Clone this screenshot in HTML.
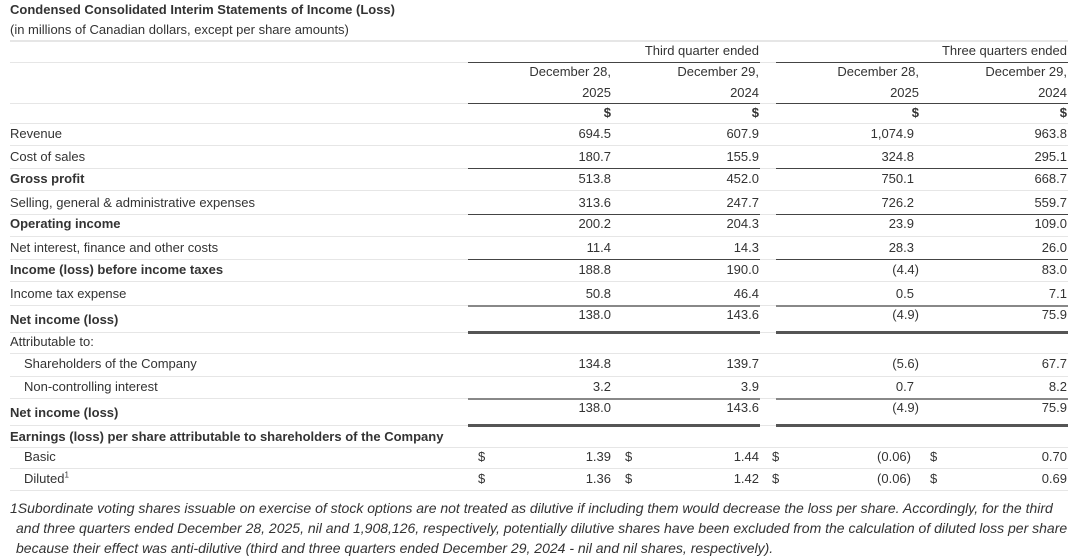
<!DOCTYPE html>
<html><head><meta charset="utf-8"><style>
body{margin:0;width:1080px;height:555px;background:#fff;font-family:"Liberation Sans",Arial,sans-serif;font-size:13px;color:#333;position:relative;overflow:hidden}
.t{position:absolute;white-space:nowrap;line-height:16px}
.r{position:absolute;white-space:nowrap;line-height:16px;text-align:right}
.b{font-weight:bold}
.g{position:absolute;left:10px;width:1058px;height:1px;background:#e6e6e6}
.d{position:absolute;height:1px;background:#444}
.h{position:absolute;height:2px;background:#888}
.fn{position:absolute;left:10px;font-style:italic;white-space:nowrap;line-height:16px;font-size:14px}
</style></head><body>
<div class="t b" style="left:10px;top:2px">Condensed Consolidated Interim Statements of Income (Loss)</div>
<div class="t" style="left:10px;top:22px">(in millions of Canadian dollars, except per share amounts)</div>
<div class="g" style="top:40px;height:2px"></div>
<div class="g" style="top:62px"></div>
<div class="r" style="right:321px;top:43px">Third quarter ended</div>
<div class="r" style="right:13px;top:43px">Three quarters ended</div>
<div class="d" style="left:468px;width:292px;top:62px"></div>
<div class="d" style="left:776px;width:292px;top:62px"></div>
<div class="r" style="right:469px;top:64px">December 28,</div>
<div class="r" style="right:321px;top:64px">December 29,</div>
<div class="r" style="right:161px;top:64px">December 28,</div>
<div class="r" style="right:13px;top:64px">December 29,</div>
<div class="r" style="right:469px;top:85px">2025</div>
<div class="r" style="right:321px;top:85px">2024</div>
<div class="r" style="right:161px;top:85px">2025</div>
<div class="r" style="right:13px;top:85px">2024</div>
<div class="g" style="top:103px"></div>
<div class="d" style="left:468px;width:292px;top:103px"></div>
<div class="d" style="left:776px;width:292px;top:103px"></div>
<div class="r b" style="right:469px;top:105px">$</div>
<div class="r b" style="right:321px;top:105px">$</div>
<div class="r b" style="right:161px;top:105px">$</div>
<div class="r b" style="right:13px;top:105px">$</div>
<div class="g" style="top:123px"></div>

<div class="t" style="left:10px;top:126px">Revenue</div>
<div class="r" style="right:469px;top:126px">694.5</div><div class="r" style="right:321px;top:126px">607.9</div><div class="r" style="right:166px;top:126px">1,074.9</div><div class="r" style="right:13px;top:126px">963.8</div>
<div class="g" style="top:145px"></div>
<div class="t" style="left:10px;top:149px">Cost of sales</div>
<div class="r" style="right:469px;top:149px">180.7</div><div class="r" style="right:321px;top:149px">155.9</div><div class="r" style="right:166px;top:149px">324.8</div><div class="r" style="right:13px;top:149px">295.1</div>
<div class="g" style="top:168px"></div>
<div class="d" style="left:468px;width:292px;top:168px"></div><div class="d" style="left:776px;width:292px;top:168px"></div>
<div class="t b" style="left:10px;top:171px">Gross profit</div>
<div class="r" style="right:469px;top:171px">513.8</div><div class="r" style="right:321px;top:171px">452.0</div><div class="r" style="right:166px;top:171px">750.1</div><div class="r" style="right:13px;top:171px">668.7</div>
<div class="g" style="top:190px"></div>
<div class="t" style="left:10px;top:195px">Selling, general &amp; administrative expenses</div>
<div class="r" style="right:469px;top:195px">313.6</div><div class="r" style="right:321px;top:195px">247.7</div><div class="r" style="right:166px;top:195px">726.2</div><div class="r" style="right:13px;top:195px">559.7</div>
<div class="g" style="top:214px"></div>
<div class="d" style="left:468px;width:292px;top:214px"></div><div class="d" style="left:776px;width:292px;top:214px"></div>
<div class="t b" style="left:10px;top:216px">Operating income</div>
<div class="r" style="right:469px;top:216px">200.2</div><div class="r" style="right:321px;top:216px">204.3</div><div class="r" style="right:166px;top:216px">23.9</div><div class="r" style="right:13px;top:216px">109.0</div>
<div class="g" style="top:236px"></div>
<div class="t" style="left:10px;top:240px">Net interest, finance and other costs</div>
<div class="r" style="right:469px;top:240px">11.4</div><div class="r" style="right:321px;top:240px">14.3</div><div class="r" style="right:166px;top:240px">28.3</div><div class="r" style="right:13px;top:240px">26.0</div>
<div class="g" style="top:259px"></div>
<div class="d" style="left:468px;width:292px;top:259px"></div><div class="d" style="left:776px;width:292px;top:259px"></div>
<div class="t b" style="left:10px;top:262px">Income (loss) before income taxes</div>
<div class="r" style="right:469px;top:262px">188.8</div><div class="r" style="right:321px;top:262px">190.0</div><div class="r" style="right:161px;top:262px">(4.4)</div><div class="r" style="right:13px;top:262px">83.0</div>
<div class="g" style="top:281px"></div>
<div class="t" style="left:10px;top:286px">Income tax expense</div>
<div class="r" style="right:469px;top:286px">50.8</div><div class="r" style="right:321px;top:286px">46.4</div><div class="r" style="right:166px;top:286px">0.5</div><div class="r" style="right:13px;top:286px">7.1</div>
<div class="g" style="top:305px"></div>
<div class="h" style="left:468px;width:292px;top:305px"></div><div class="h" style="left:776px;width:292px;top:305px"></div>
<div class="t b" style="left:10px;top:312px">Net income (loss)</div>
<div class="r" style="right:469px;top:307px">138.0</div><div class="r" style="right:321px;top:307px">143.6</div><div class="r" style="right:161px;top:307px">(4.9)</div><div class="r" style="right:13px;top:307px">75.9</div>
<div class="g" style="top:332px"></div>
<div class="h" style="left:468px;width:292px;top:331px;height:3px;background:#555"></div><div class="h" style="left:776px;width:292px;top:331px;height:3px;background:#555"></div>
<div class="t" style="left:10px;top:334px">Attributable to:</div>
<div class="g" style="top:353px"></div>
<div class="t" style="left:24px;top:356px">Shareholders of the Company</div>
<div class="r" style="right:469px;top:356px">134.8</div><div class="r" style="right:321px;top:356px">139.7</div><div class="r" style="right:161px;top:356px">(5.6)</div><div class="r" style="right:13px;top:356px">67.7</div>
<div class="g" style="top:376px"></div>
<div class="t" style="left:24px;top:379px">Non-controlling interest</div>
<div class="r" style="right:469px;top:379px">3.2</div><div class="r" style="right:321px;top:379px">3.9</div><div class="r" style="right:166px;top:379px">0.7</div><div class="r" style="right:13px;top:379px">8.2</div>
<div class="g" style="top:398px"></div>
<div class="h" style="left:468px;width:292px;top:398px"></div><div class="h" style="left:776px;width:292px;top:398px"></div>
<div class="t b" style="left:10px;top:405px">Net income (loss)</div>
<div class="r" style="right:469px;top:400px">138.0</div><div class="r" style="right:321px;top:400px">143.6</div><div class="r" style="right:161px;top:400px">(4.9)</div><div class="r" style="right:13px;top:400px">75.9</div>
<div class="g" style="top:425px"></div>
<div class="h" style="left:468px;width:292px;top:424px;height:3px;background:#555"></div><div class="h" style="left:776px;width:292px;top:424px;height:3px;background:#555"></div>
<div class="t b" style="left:10px;top:429px">Earnings (loss) per share attributable to shareholders of the Company</div>
<div class="g" style="top:447px"></div>
<div class="t" style="left:24px;top:449px">Basic</div>
<div class="t" style="left:478px;top:449px">$</div><div class="r" style="right:469px;top:449px">1.39</div>
<div class="t" style="left:625px;top:449px">$</div><div class="r" style="right:321px;top:449px">1.44</div>
<div class="t" style="left:772px;top:449px">$</div><div class="r" style="right:169px;top:449px">(0.06)</div>
<div class="t" style="left:930px;top:449px">$</div><div class="r" style="right:13px;top:449px">0.70</div>
<div class="g" style="top:468px"></div>
<div class="t" style="left:24px;top:471px">Diluted<sup style="font-size:8px;line-height:0">1</sup></div>
<div class="t" style="left:478px;top:471px">$</div><div class="r" style="right:469px;top:471px">1.36</div>
<div class="t" style="left:625px;top:471px">$</div><div class="r" style="right:321px;top:471px">1.42</div>
<div class="t" style="left:772px;top:471px">$</div><div class="r" style="right:169px;top:471px">(0.06)</div>
<div class="t" style="left:930px;top:471px">$</div><div class="r" style="right:13px;top:471px">0.69</div>
<div class="g" style="top:490px"></div>
<div class="fn" style="top:500px">1Subordinate voting shares issuable on exercise of stock options are not treated as dilutive if including them would decrease the loss per share. Accordingly, for the third</div>
<div class="fn" style="top:520px;left:16px">and three quarters ended December 28, 2025, nil and 1,908,126, respectively, potentially dilutive shares have been excluded from the calculation of diluted loss per share</div>
<div class="fn" style="top:540px;left:16px">because their effect was anti-dilutive (third and three quarters ended December 29, 2024 - nil and nil shares, respectively).</div>
</body></html>
